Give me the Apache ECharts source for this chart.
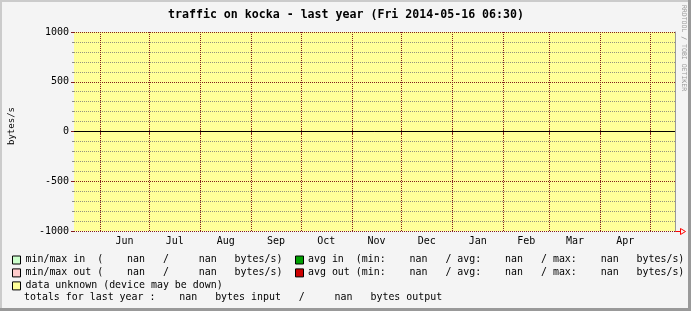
<!DOCTYPE html>
<html><head><meta charset="utf-8">
<script src="https://cdn.jsdelivr.net/npm/echarts@6/dist/echarts.min.js"></script>
<style>html,body{margin:0;padding:0;background:#f4f4f4}#c{width:691px;height:311px}</style>
</head><body><div id="c"></div>
<script>
// ---- data ----
const titleText = 'traffic on kocka - last year (Fri 2014-05-16 06:30)';
const yAxisName = 'bytes/s';
const rangeStart = '2013-05-16 06:30';
const rangeEnd = '2014-05-16 06:30';
const monthStarts = ['2013-06-01','2013-07-01','2013-08-01','2013-09-01','2013-10-01','2013-11-01',
                     '2013-12-01','2014-01-01','2014-02-01','2014-03-01','2014-04-01','2014-05-01'];
const monthLabels = ['Jun','Jul','Aug','Sep','Oct','Nov','Dec','Jan','Feb','Mar','Apr'];
const yMin = -1000, yMax = 1000, yMinorStep = 100, yMajorStep = 500;
// all samples are unknown (nan) in the reference
const minMaxIn = [];
const minMaxOut = [];
const avgIn = [];
const avgOut = [];
const legendLeft = ['min/max in  (    nan   /     nan   bytes/s)',
                    'min/max out (    nan   /     nan   bytes/s)',
                    'data unknown (device may be down)'];
const legendRight = ['avg in  (min:    nan   / avg:    nan   / max:    nan   bytes/s)',
                     'avg out (min:    nan   / avg:    nan   / max:    nan   bytes/s)'];
const totalsLine = 'totals for last year :    nan   bytes input   /     nan   bytes output';
const creditText = 'RRDTOOL / TOBI OETIKER';

// ---- helpers ----
function parseTs(s){
  const [d,t] = s.split(' ');
  const [y,m,dd] = d.split('-').map(Number);
  const [h,mi] = (t||'0:0').split(':').map(Number);
  return Date.UTC(y,m-1,dd,h,mi);
}
const xMin = parseTs(rangeStart), xMax = parseTs(rangeEnd);
const tickVals = monthStarts.map(parseTs);
const labelVals = monthLabels.map((_, i) => (tickVals[i] + tickVals[i+1]) / 2);
function labelFor(v){
  let best = 0, bd = Infinity;
  labelVals.forEach((lv,i)=>{const d=Math.abs(lv-v); if(d<bd){bd=d;best=i;}});
  return monthLabels[best];
}

const MONO = 'DejaVu Sans Mono';
const MGRID = '#821E1E';
const GRID = 'rgba(120,120,120,0.8)';

const chart = echarts.init(document.getElementById('c'), null, {renderer:'canvas'});

function txt(x, y, s){
  return {type:'text', x:x, y:y, silent:true,
    style:{text:s, fontFamily:MONO, fontSize:9.93, fill:'#000', align:'left', verticalAlign:'middle'}};
}
const rowsY = [259.5,272.7,285.4,297.6];
const legendGraphics = [];
legendLeft.forEach((s,i)=>legendGraphics.push(txt(25.5, rowsY[i], s)));
legendRight.forEach((s,i)=>legendGraphics.push(txt(308, rowsY[i], s)));
legendGraphics.push(txt(24, rowsY[3], totalsLine));
function box(x, y, color){
  return {type:'rect', silent:true, shape:{x:x+0.5, y:y-3.5, width:8, height:8},
    style:{fill:color, stroke:'#000', lineWidth:1}};
}
legendGraphics.push(box(12, rowsY[0], '#ccffcc'));
legendGraphics.push(box(12, rowsY[1]-0.3, '#ffcccc'));
legendGraphics.push(box(12, rowsY[2], '#ffff99'));
legendGraphics.push(box(295, rowsY[0], '#00a000'));
legendGraphics.push(box(295, rowsY[1]-0.3, '#cc0000'));

const option = {
  animation:false,
  backgroundColor:'#f4f4f4',
  grid:{left:74, top:32, width:601, height:199, show:true, backgroundColor:'#ffff99', borderWidth:0},
  xAxis:[
    {type:'value', min:xMin, max:xMax, position:'bottom',
     axisLine:{show:false},
     axisTick:{show:true, customValues:tickVals, length:3, lineStyle:{color:MGRID}},
     axisLabel:{show:true, customValues:labelVals, formatter:labelFor, fontFamily:MONO, fontSize:10, color:'#000', margin:5},
     splitLine:{show:true, lineStyle:{color:MGRID, type:[1,1], width:1}}},
    {type:'value', min:xMin, max:xMax, position:'top',
     axisLine:{show:false},
     axisTick:{show:true, customValues:tickVals, length:2, lineStyle:{color:MGRID}},
     axisLabel:{show:false}, splitLine:{show:false}}
  ],
  yAxis:[
    {type:'value', min:yMin, max:yMax, interval:yMinorStep, position:'left',
     axisLine:{show:false},
     axisTick:{show:true, length:2, lineStyle:{color:'#8c8c8c'}},
     axisLabel:{show:false},
     splitLine:{show:true, lineStyle:{color:['rgba(0,0,0,0)',GRID,GRID,GRID,GRID], type:[1,1], width:1}}},
    {type:'value', min:yMin, max:yMax, interval:yMajorStep, position:'left',
     axisLine:{show:false},
     axisTick:{show:true, length:3, lineStyle:{color:MGRID}},
     axisLabel:{show:true, fontFamily:MONO, fontSize:10, color:'#000', margin:5, formatter:v=>String(v)},
     splitLine:{show:true, lineStyle:{color:MGRID, type:[1,1], width:1}}},
    {type:'value', min:yMin, max:yMax, position:'right',
     axisLine:{show:true, lineStyle:{color:'#999999', width:1}},
     axisTick:{show:false}, axisLabel:{show:false}, splitLine:{show:false}}
  ],
  series:[
    {name:'min/max in', type:'line', data:minMaxIn, xAxisIndex:0, yAxisIndex:0, showSymbol:false},
    {name:'min/max out', type:'line', data:minMaxOut, xAxisIndex:0, yAxisIndex:0, showSymbol:false},
    {name:'avg in', type:'line', data:avgIn, xAxisIndex:0, yAxisIndex:0, showSymbol:false, lineStyle:{color:'#00a000'}},
    {name:'avg out', type:'line', data:avgOut, xAxisIndex:0, yAxisIndex:0, showSymbol:false, lineStyle:{color:'#cc0000'},
     markLine:{silent:true, symbol:'none', label:{show:false}, animation:false,
       lineStyle:{color:'#000', type:'solid', width:1}, data:[{yAxis:0}]}}
  ],
  graphic:[
    {type:'rect', silent:true, shape:{x:0,y:0,width:691,height:2}, style:{fill:'#cbcbcb'}},
    {type:'rect', silent:true, shape:{x:0,y:0,width:2,height:311}, style:{fill:'#cbcbcb'}},
    {type:'rect', silent:true, shape:{x:0,y:308,width:691,height:3}, style:{fill:'#999999'}},
    {type:'rect', silent:true, shape:{x:688,y:0,width:3,height:311}, style:{fill:'#999999'}},
    {type:'text', silent:true, x:346, y:14.5,
     style:{text:titleText, fontFamily:MONO, fontSize:11.6, fontWeight:'bold', fill:'#000', align:'center', verticalAlign:'middle'}},
    {type:'text', silent:true, x:12, y:126, rotation:Math.PI/2,
     style:{text:yAxisName, fontFamily:MONO, fontSize:9, fill:'#000', align:'center', verticalAlign:'middle'}},
    {type:'text', silent:true, x:684, y:48, rotation:-Math.PI/2,
     style:{text:creditText, fontFamily:MONO, fontSize:6.5, fill:'#999999', align:'center', verticalAlign:'middle'}},
    {type:'polyline', silent:true, shape:{points:[[675,231.5],[680,231.5]]}, style:{stroke:'#ff0000', lineWidth:1, fill:null}},
    {type:'polygon', silent:true, shape:{points:[[680.5,228.5],[685.5,231.5],[680.5,234.5]]}, style:{stroke:'#ff0000', lineWidth:1, fill:null}}
  ].concat(legendGraphics)
};
chart.setOption(option);
</script>
</body></html>
